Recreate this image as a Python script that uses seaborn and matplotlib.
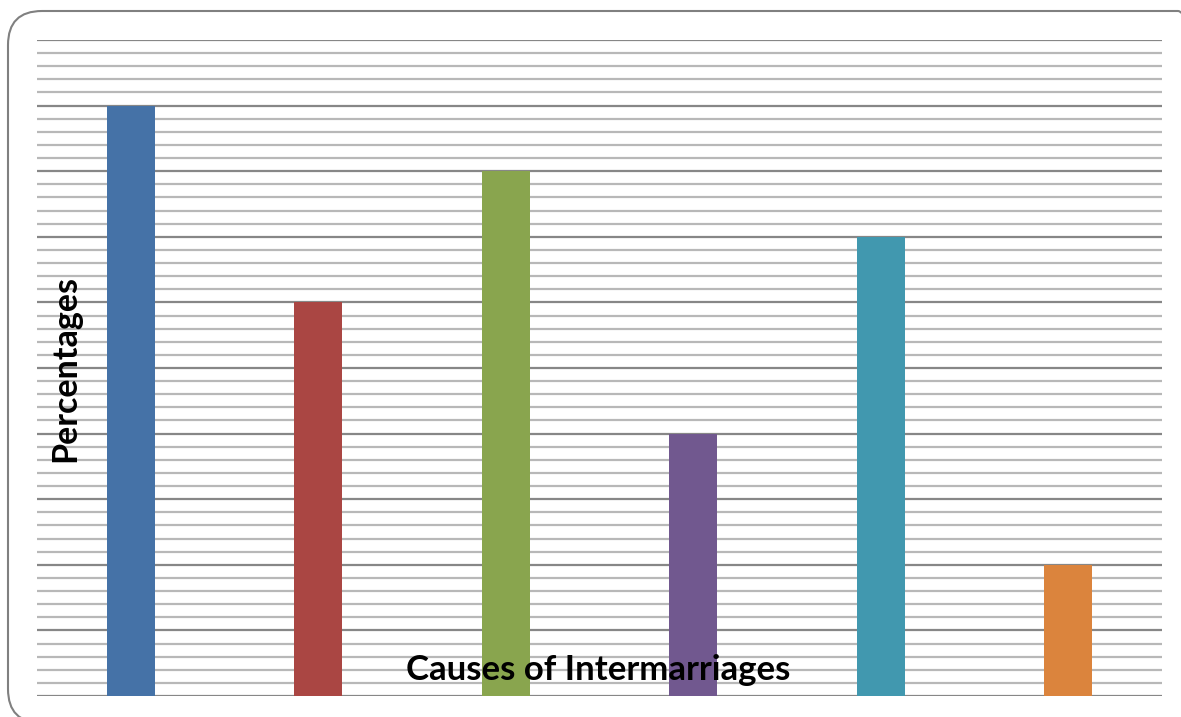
import matplotlib
matplotlib.use("Agg")
import matplotlib.pyplot as plt
from matplotlib.patches import FancyBboxPatch
from matplotlib.ticker import MultipleLocator
from matplotlib.transforms import IdentityTransform
import seaborn as sns
import pandas as pd

causes = ["Cause 1", "Cause 2", "Cause 3", "Cause 4", "Cause 5", "Cause 6"]
percentages = [45, 30, 40, 20, 35, 10]
bar_colors = ["#4572a7", "#aa4643", "#89a54e", "#71588f", "#4198af", "#db843d"]

df = pd.DataFrame({"cause": causes, "pct": percentages})

sns.set_theme(style="white")
plt.rcParams["font.family"] = ["Lato", "DejaVu Sans"]

W, H = 1181, 717
fig = plt.figure(figsize=(W / 100, H / 100), dpi=100)
ax = fig.add_axes([37 / W, 1 - 696 / H, (1162 - 37) / W, (696 - 40) / H])

sns.barplot(data=df, x="cause", y="pct", hue="cause", palette=bar_colors,
            width=0.256, legend=False, ax=ax, zorder=3, saturation=1, linewidth=0)

ax.set_ylim(0, 50)
ax.set_xlim(-0.5, len(causes) - 0.5)
ax.yaxis.set_major_locator(MultipleLocator(5))
ax.yaxis.set_minor_locator(MultipleLocator(1))
ax.grid(which="major", axis="y", color="#878787", linewidth=1.6, zorder=1)
ax.grid(which="minor", axis="y", color="#b8b8b8", linewidth=1.6, zorder=1)
ax.set_axisbelow(True)
ax.tick_params(which="both", left=False, bottom=False, labelleft=False, labelbottom=False)
for s in ax.spines.values():
    s.set_visible(False)

ax.set_xlabel("")
ax.set_ylabel("")
ax.text(0.499, 0.04, "Causes of Intermarriages", transform=ax.transAxes,
        ha="center", va="center", fontsize=25, fontweight="bold", color="black", zorder=5)
fig.text(65 / W, 1 - 368 / H, "Percentages", rotation=90, ha="center", va="center",
         fontsize=24.5, fontweight="bold", color="black")

# rounded frame around the chart, in pixel units
border = FancyBboxPatch((8, -6), 1212 - 8, (H - 11) + 6,
                        boxstyle="round,pad=0,rounding_size=34",
                        transform=IdentityTransform(), fill=False,
                        edgecolor="#808080", linewidth=1.5)
fig.patches.append(border)

fig.savefig("out.png", dpi=100)
